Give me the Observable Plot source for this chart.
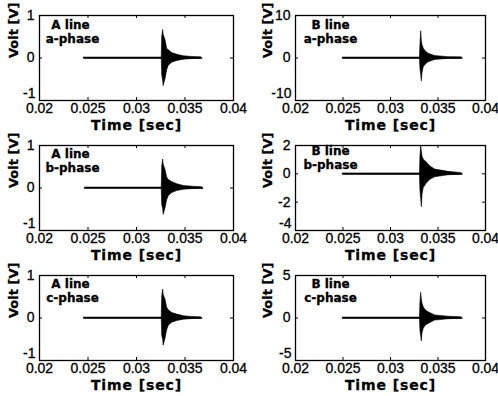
<!DOCTYPE html>
<html><head><meta charset="utf-8">
<script src="https://cdn.jsdelivr.net/npm/d3@7"></script>
<script src="https://cdn.jsdelivr.net/npm/@observablehq/plot@0.6"></script>
<style>
html,body{margin:0;padding:0;background:#fff;}
#chart{position:relative;width:498px;height:396px;overflow:hidden;background:#fff;}
.panel{position:absolute;}
.panel svg{display:block;overflow:visible;}
.panel svg text{stroke:#000;stroke-width:0.3px;}
</style></head><body><div id="chart"></div>
<script>
// ---- data ----
const xTicks = [0.02, 0.025, 0.03, 0.035, 0.04];
const xTickLabels = ["0.02", "0.025", "0.03", "0.035", "0.04"];
const xTitle = "Time [sec]";
const yTitle = "Volt [V]";
const lineNames = ["A line", "B line", "A line", "B line", "A line", "B line"];
const phaseNames = ["a-phase", "a-phase", "b-phase", "b-phase", "c-phase", "c-phase"];

const yDomainA = [-1, 1];
const yTicksA = [-1, 0, 1];
const yDomainBa = [-10, 10];
const yTicksBa = [-10, 0, 10];
const yDomainBb = [-4, 2];
const yTicksBb = [-4, -2, 0, 2];
const yDomainBc = [-5, 5];
const yTicksBc = [-5, 0, 5];

// envelope of the recorded signal (upper / lower), A line a-phase
const aaTime  = [0.0246, 0.0326, 0.03265, 0.03275, 0.0328, 0.0330, 0.03316, 0.03333, 0.03368, 0.0342, 0.0349, 0.0357, 0.0367];
const aaUpper = [0.01, 0.01, 0.50, 0.66, 0.55, 0.41, 0.22, 0.18, 0.12, 0.075, 0.04, 0.025, 0.015];
const aaLower = [-0.01, -0.01, -0.40, -0.55, -0.66, -0.49, -0.29, -0.18, -0.11, -0.07, -0.04, -0.025, -0.015];
// A line b-phase
const abTime  = [0.0247, 0.0326, 0.03265, 0.03275, 0.0328, 0.0330, 0.03316, 0.03333, 0.03368, 0.0342, 0.0349, 0.0358, 0.0368];
const abUpper = [0.01, 0.01, 0.50, 0.67, 0.55, 0.42, 0.25, 0.19, 0.14, 0.09, 0.045, 0.03, 0.015];
const abLower = [-0.01, -0.01, -0.40, -0.50, -0.63, -0.47, -0.29, -0.19, -0.12, -0.07, -0.04, -0.025, -0.015];
// A line c-phase
const acTime  = [0.0246, 0.0326, 0.03265, 0.03275, 0.0328, 0.0330, 0.03316, 0.03333, 0.03368, 0.0342, 0.0349, 0.0357, 0.0367];
const acUpper = [0.01, 0.01, 0.50, 0.67, 0.55, 0.42, 0.24, 0.18, 0.12, 0.08, 0.04, 0.025, 0.015];
const acLower = [-0.01, -0.01, -0.42, -0.52, -0.65, -0.48, -0.29, -0.18, -0.11, -0.07, -0.04, -0.025, -0.015];
// B line a-phase
const baTime  = [0.0250, 0.0331, 0.03315, 0.03323, 0.0333, 0.03337, 0.0335, 0.0337, 0.0340, 0.0347, 0.0361, 0.0375];
const baUpper = [0.1, 0.1, 3.0, 6.3, 4.0, 3.0, 2.2, 1.6, 1.0, 0.45, 0.2, 0.15];
const baLower = [-0.1, -0.1, -2.5, -4.0, -5.5, -3.5, -2.2, -1.6, -1.0, -0.45, -0.2, -0.15];
// B line b-phase
const bbTime  = [0.0250, 0.0331, 0.03315, 0.03323, 0.0333, 0.03337, 0.0335, 0.0338, 0.0342, 0.0347, 0.0361, 0.0375];
const bbUpper = [0.03, 0.03, 1.2, 2.0, 1.6, 1.2, 1.0, 0.82, 0.52, 0.3, 0.14, 0.05];
const bbLower = [-0.03, -0.03, -1.2, -1.8, -2.35, -1.5, -1.0, -0.7, -0.42, -0.24, -0.1, -0.05];
// B line c-phase
const bcTime  = [0.0250, 0.0331, 0.03315, 0.03323, 0.0333, 0.03337, 0.0335, 0.0337, 0.0340, 0.0347, 0.0361, 0.0375];
const bcUpper = [0.05, 0.05, 1.8, 2.96, 2.2, 1.7, 1.27, 0.9, 0.69, 0.3, 0.15, 0.08];
const bcLower = [-0.05, -0.05, -1.5, -2.2, -2.76, -1.8, -1.27, -0.9, -0.7, -0.3, -0.15, -0.08];

// ---- assemble panels ----
const series = [
  {time: aaTime, upper: aaUpper, lower: aaLower, yDomain: yDomainA, yTicks: yTicksA},
  {time: baTime, upper: baUpper, lower: baLower, yDomain: yDomainBa, yTicks: yTicksBa},
  {time: abTime, upper: abUpper, lower: abLower, yDomain: yDomainA, yTicks: yTicksA},
  {time: bbTime, upper: bbUpper, lower: bbLower, yDomain: yDomainBb, yTicks: yTicksBb},
  {time: acTime, upper: acUpper, lower: acLower, yDomain: yDomainA, yTicks: yTicksA},
  {time: bcTime, upper: bcUpper, lower: bcLower, yDomain: yDomainBc, yTicks: yTicksBc}
];

// layout (pixels)
const colLayout = [
  {left: 0, width: 248, mL: 39, mR: 15, labelDx1: 31, labelDx2: 33, titleDx: -26},
  {left: 248, width: 250, mL: 47, mR: 13, labelDx1: 35, labelDx2: 35, titleDx: -28}
];
const rowTops = [0, 130, 260];
const labelDy = [[10, 24], [10, 24], [9, 23], [5.5, 19.5], [9, 23], [9, 23]];

const chart = document.getElementById("chart");
series.forEach((s, i) => {
  const col = colLayout[i % 2];
  const top = rowTops[Math.floor(i / 2)];
  const H = 132, mT = 15, mB = 32;
  const boxW = col.width - col.mL - col.mR;
  const boxH = H - mT - mB;
  const rows = s.time.map((t, k) => ({t, hi: s.upper[k], lo: s.lower[k], mid: 0}));
  const yMin = s.yTicks[0];
  const yRest = s.yTicks.slice(1);
  const plot = Plot.plot({
    width: col.width, height: H,
    marginLeft: col.mL, marginRight: col.mR, marginTop: mT, marginBottom: mB,
    style: {fontFamily: "Liberation Sans, Arial, sans-serif", fontSize: "14px", background: "transparent", color: "#000"},
    x: {domain: [0.02, 0.04], label: null},
    y: {domain: s.yDomain, label: null},
    marks: [
      Plot.areaY(rows, {x: "t", y1: "lo", y2: "hi", fill: "#000", stroke: "#000", strokeWidth: 0.6, curve: "linear"}),
      Plot.line(rows, {x: "t", y: "mid", stroke: "#000", strokeWidth: 1.7}),
      Plot.frame({stroke: "#000", strokeWidth: 1.3}),
      Plot.tickX(xTicks, {x: d => d, insetTop: boxH - 3, stroke: "#000"}),
      Plot.tickX(xTicks, {x: d => d, insetBottom: boxH - 3, stroke: "#000"}),
      Plot.tickY(s.yTicks, {y: d => d, insetRight: boxW - 3, stroke: "#000"}),
      Plot.tickY(s.yTicks, {y: d => d, insetLeft: boxW - 3, stroke: "#000"}),
      Plot.axisX({ticks: xTicks, tickFormat: (d) => xTickLabels[xTicks.indexOf(d)], tickSize: 0, tickPadding: 3, label: null}),
      Plot.axisY({ticks: yRest, tickFormat: d => String(d), tickSize: 0, tickPadding: 5, label: null}),
      Plot.axisY({ticks: [yMin], tickFormat: d => String(d), tickSize: 0, tickPadding: 4, dy: -7, label: null}),
      Plot.text([xTitle], {frameAnchor: "bottom", text: d => d, dy: 25, lineAnchor: "middle", fontFamily: "DejaVu Sans", fontWeight: "bold", fontSize: 14}),
      Plot.text([yTitle], {frameAnchor: "left", text: d => d, dx: col.titleDx, rotate: -90, lineAnchor: "middle", fontFamily: "DejaVu Sans", fontWeight: "bold", fontSize: 13}),
      Plot.text([lineNames[i]], {frameAnchor: "top-left", text: d => d, dx: col.labelDx1, dy: labelDy[i][0], textAnchor: "middle", lineAnchor: "middle", fontFamily: "DejaVu Sans", fontWeight: "bold", fontSize: 12}),
      Plot.text([phaseNames[i]], {frameAnchor: "top-left", text: d => d, dx: col.labelDx2, dy: labelDy[i][1], textAnchor: "middle", lineAnchor: "middle", fontFamily: "DejaVu Sans", fontWeight: "bold", fontSize: 12})
    ]
  });
  const div = document.createElement("div");
  div.className = "panel";
  div.style.left = col.left + "px";
  div.style.top = top + "px";
  div.appendChild(plot);
  chart.appendChild(div);
  d3.select(plot).selectAll("text").filter(function() { return this.textContent === xTitle; })
    .style("letter-spacing", "0.9px");
});
</script></body></html>
